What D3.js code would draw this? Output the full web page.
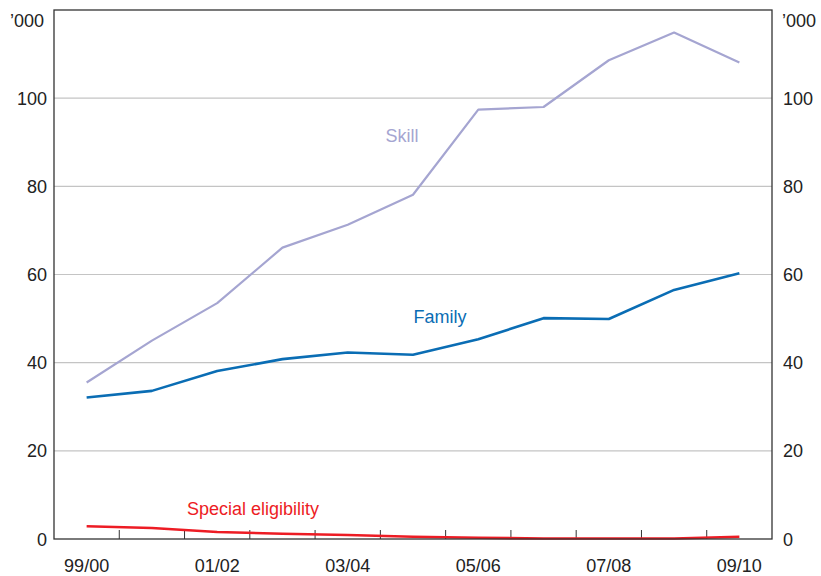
<!DOCTYPE html>
<html>
<head>
<meta charset="utf-8">
<script src="https://cdn.jsdelivr.net/npm/d3@7"></script>
<style>
	body { margin: 0; background: #fff; }
	text { font-family: "Liberation Sans", Arial, sans-serif; }
</style>
</head>
<body>
<svg id="chart" width="821" height="576"></svg>
<script>
	// financial years
	var years = ["99/00","00/01","01/02","02/03","03/04","04/05","05/06","06/07","07/08","08/09","09/10"];
	var year_labels = ["99/00","01/02","03/04","05/06","07/08","09/10"];

	// visa grants, '000
	var skill = [35.5, 45.0, 53.5, 66.1, 71.3, 78.1, 97.4, 98.0, 108.6, 114.9, 108.1];
	var family = [32.1, 33.6, 38.1, 40.8, 42.3, 41.8, 45.3, 50.1, 49.9, 56.5, 60.3];
	var special = [2.9, 2.5, 1.6, 1.2, 0.9, 0.5, 0.3, 0.1, 0.1, 0.1, 0.5];

	var y_ticks = [0, 20, 40, 60, 80, 100];

	var series = [
		{name: "Skill", values: skill, color: "#a5a5d1", width: 2.2, lx: 402, ly: 141.5},
		{name: "Family", values: family, color: "#0a6db4", width: 2.6, lx: 440, ly: 322.5},
		{name: "Special eligibility", values: special, color: "#ed1c24", width: 2.6, lx: 253, ly: 514.5}
	];

	var plot = {left: 54, right: 772, top: 10, bottom: 539};
	var font_size = "18px";

	var svg = d3.select("#chart");

	var x = d3.scaleBand().domain(years).range([plot.left, plot.right]);
	var y = d3.scaleLinear().domain([0, 120]).range([plot.bottom, plot.top]);

	// gridlines
	svg.append("g")
		.selectAll("line")
		.data(y_ticks.filter(function(d){ return d > 0; }))
		.join("line")
		.attr("x1", plot.left)
		.attr("x2", plot.right)
		.attr("y1", function(d){ return y(d); })
		.attr("y2", function(d){ return y(d); })
		.attr("stroke", "#c4c4c4")
		.attr("stroke-width", 1.2)

	// y labels both sides
	var yl = svg.append("g").attr("font-size", font_size).attr("fill", "#222");
	yl.selectAll("text.left")
		.data(y_ticks)
		.join("text")
		.attr("class", "left")
		.attr("x", plot.left - 7)
		.attr("y", function(d){ return y(d) + 6.5; })
		.attr("text-anchor", "end")
		.text(function(d){ return d; })
	yl.selectAll("text.right")
		.data(y_ticks)
		.join("text")
		.attr("class", "right")
		.attr("x", plot.right + 11)
		.attr("y", function(d){ return y(d) + 6.5; })
		.attr("text-anchor", "start")
		.text(function(d){ return d; })
	yl.append("text").attr("x", plot.left - 10).attr("y", 27).attr("text-anchor", "end").text("\u2019000")
	yl.append("text").attr("x", plot.right + 10).attr("y", 27).attr("text-anchor", "start").text("\u2019000")

	// x ticks at band edges, pointing up
	svg.append("g")
		.selectAll("line")
		.data(years.slice(1))
		.join("line")
		.attr("x1", function(d){ return x(d); })
		.attr("x2", function(d){ return x(d); })
		.attr("y1", plot.bottom)
		.attr("y2", plot.bottom - 9)
		.attr("stroke", "#333")
		.attr("stroke-width", 1)

	svg.append("g")
		.attr("font-size", font_size)
		.attr("fill", "#222")
		.selectAll("text")
		.data(year_labels)
		.join("text")
		.attr("x", function(d){ return x(d) + x.bandwidth() / 2; })
		.attr("y", 572)
		.attr("text-anchor", "middle")
		.text(function(d){ return d; })

	// lines
	var line = d3.line()
		.x(function(d, i){ return x(years[i]) + x.bandwidth() / 2; })
		.y(function(d){ return y(d); });

	series.forEach(function(s){
		svg.append("path")
			.attr("d", line(s.values))
			.attr("fill", "none")
			.attr("stroke", s.color)
			.attr("stroke-width", s.width)
			.attr("stroke-linejoin", "round")

		svg.append("text")
			.attr("x", s.lx)
			.attr("y", s.ly)
			.attr("text-anchor", "middle")
			.attr("font-size", font_size)
			.attr("fill", s.color)
			.text(s.name)
	});

	// frame
	svg.append("rect")
		.attr("x", plot.left)
		.attr("y", plot.top)
		.attr("width", plot.right - plot.left)
		.attr("height", plot.bottom - plot.top)
		.attr("fill", "none")
		.attr("stroke", "#333")
		.attr("stroke-width", 1.3)
</script>
</body>
</html>
